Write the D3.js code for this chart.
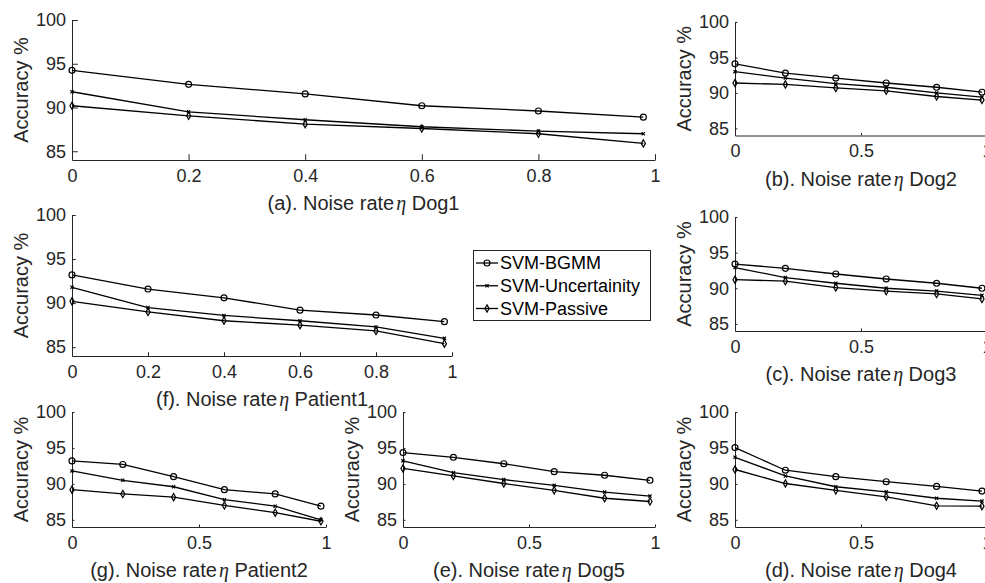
<!doctype html>
<html>
<head>
<meta charset="utf-8">
<script src="https://d3js.org/d3.v7.min.js"></script>
<style>
  body { margin: 0; background: #fff; }
  text { font-family: "Liberation Sans", Arial, sans-serif; }
</style>
</head>
<body>
<svg id="chart" width="985" height="583"></svg>
<script>
// noise rates on the x axis
const noiseRates = [0, 0.2, 0.4, 0.6, 0.8, 0.98];
const methods = ["SVM-BGMM", "SVM-Uncertainity", "SVM-Passive"];
const xTicksFine = [0, 0.2, 0.4, 0.6, 0.8, 1];
const xTicksCoarse = [0, 0.5, 1];
const yTicks = [85, 90, 95, 100];

// accuracy per panel: [BGMM, Uncertainity, Passive]
const dog1Acc = [
  [94.25, 92.65, 91.55, 90.2, 89.6, 88.9],
  [91.8, 89.5, 88.6, 87.8, 87.3, 87.0],
  [90.2, 89.05, 88.1, 87.6, 87.0, 85.9]
];
const dog2Acc = [
  [94.1, 92.8, 92.1, 91.4, 90.8, 90.1],
  [93.0, 92.1, 91.3, 90.8, 90.0, 89.4],
  [91.4, 91.2, 90.7, 90.3, 89.5, 89.0]
];
const patient1Acc = [
  [93.2, 91.6, 90.6, 89.2, 88.65, 87.9],
  [91.8, 89.5, 88.6, 88.0, 87.3, 86.0],
  [90.2, 89.0, 88.0, 87.5, 86.85, 85.4]
];
const dog3Acc = [
  [93.4, 92.8, 92.0, 91.3, 90.7, 90.0],
  [92.9, 91.5, 90.7, 90.0, 89.6, 89.0],
  [91.2, 91.0, 90.1, 89.6, 89.2, 88.5]
];
const patient2Acc = [
  [93.2, 92.7, 91.0, 89.2, 88.6, 86.9],
  [91.8, 90.5, 89.6, 87.8, 86.9, 85.0],
  [89.2, 88.6, 88.15, 87.0, 86.0, 84.8]
];
const dog5Acc = [
  [94.35, 93.7, 92.8, 91.7, 91.2, 90.5],
  [93.2, 91.55, 90.6, 89.8, 88.85, 88.3],
  [92.15, 91.1, 90.05, 89.1, 88.0, 87.55]
];
const dog4Acc = [
  [95.05, 91.9, 91.0, 90.3, 89.65, 89.0],
  [93.7, 91.1, 89.6, 88.9, 88.0, 87.6],
  [92.0, 90.05, 89.1, 88.2, 86.95, 86.9]
];

// panel layout (pixel boxes of the axes)
const panels = [
  {tag: "(a)", name: "Dog1",     acc: dog1Acc,     ticks: xTicksFine,   l: 72,  r: 655, t: 20,  b: 160},
  {tag: "(b)", name: "Dog2",     acc: dog2Acc,     ticks: xTicksCoarse, l: 735, r: 987, t: 22,  b: 135.5},
  {tag: "(f)", name: "Patient1", acc: patient1Acc, ticks: xTicksFine,   l: 72,  r: 452, t: 215, b: 356},
  {tag: "(c)", name: "Dog3",     acc: dog3Acc,     ticks: xTicksCoarse, l: 735, r: 987, t: 217, b: 331},
  {tag: "(g)", name: "Patient2", acc: patient2Acc, ticks: xTicksCoarse, l: 72,  r: 326, t: 412, b: 527},
  {tag: "(e)", name: "Dog5",     acc: dog5Acc,     ticks: xTicksCoarse, l: 403, r: 655, t: 412, b: 527},
  {tag: "(d)", name: "Dog4",     acc: dog4Acc,     ticks: xTicksCoarse, l: 735, r: 987, t: 412, b: 527}
];

const axisColor = "#262626";
const symbols = [
  d3.symbol().type(d3.symbolCircle).size(28),
  d3.symbol().type(d3.symbolTimes).size(8),
  d3.symbol().type(d3.symbolDiamond).size(15)
];

const svg = d3.select("#chart");

panels.forEach(function(p) {
  var x = d3.scaleLinear().domain([0, 1]).range([p.l, p.r]);
  var y = d3.scaleLinear().domain([84, 100]).range([p.b, p.t]);
  var tick = 0.01 * Math.max(p.r - p.l, p.b - p.t);
  var g = svg.append("g");

  var gx = g.append("g").attr("transform", "translate(0," + p.b + ")")
    .call(d3.axisBottom(x).tickValues(p.ticks).tickFormat(d3.format("~g"))
      .tickSizeInner(-tick).tickSizeOuter(0).tickPadding(9));
  var gy = g.append("g").attr("transform", "translate(" + p.l + ",0)")
    .call(d3.axisLeft(y).tickValues(yTicks)
      .tickSizeInner(-tick).tickSizeOuter(0).tickPadding(6));
  [gx, gy].forEach(function(a) {
    a.selectAll("path, line").attr("stroke", axisColor).attr("stroke-width", 1);
    a.selectAll("text").attr("fill", axisColor).style("font-size", "18px")
      .style("font-family", "Liberation Sans, Arial, sans-serif");
  });

  g.append("text")
    .attr("transform", "rotate(-90)")
    .attr("x", -(p.t + p.b) / 2)
    .attr("y", p.l - 44.5)
    .attr("text-anchor", "middle")
    .attr("fill", axisColor)
    .style("font-size", "20px")
    .text("Accuracy %");

  var title = g.append("text")
    .attr("x", (p.l + p.r) / 2)
    .attr("y", p.b + 50)
    .attr("text-anchor", "middle")
    .attr("fill", axisColor)
    .style("font-size", "20px");
  title.append("tspan").text(p.tag + ". Noise rate");
  title.append("tspan").attr("dx", 2)
    .style("font-family", "Liberation Serif, serif").style("font-style", "italic")
    .text("\u03b7");
  title.append("tspan").text(" " + p.name);

  var line = d3.line().x(function(d, i) { return x(noiseRates[i]); }).y(function(d) { return y(d); });

  p.acc.forEach(function(series, k) {
    g.append("path").datum(series)
      .attr("fill", "none").attr("stroke", "#000").attr("stroke-width", 1.3)
      .attr("d", line);
    g.selectAll(null).data(series).enter().append("path")
      .attr("transform", function(d, i) { return "translate(" + x(noiseRates[i]) + "," + y(d) + ")"; })
      .attr("d", symbols[k])
      .attr("fill", "none").attr("stroke", "#000").attr("stroke-width", 1.2);
  });
});

// legend
const lg = svg.append("g");
lg.append("rect").attr("x", 473.5).attr("y", 250.5).attr("width", 177).attr("height", 70)
  .attr("fill", "#fff").attr("stroke", axisColor).attr("stroke-width", 1);
const rowY = d3.scalePoint().domain(methods).range([263, 308.5]);
methods.forEach(function(m, k) {
  var yy = rowY(m);
  lg.append("line").attr("x1", 476).attr("x2", 498).attr("y1", yy).attr("y2", yy)
    .attr("stroke", "#000").attr("stroke-width", 1.3);
  lg.append("path").attr("transform", "translate(487," + yy + ")")
    .attr("d", symbols[k]).attr("fill", "none").attr("stroke", "#000").attr("stroke-width", 1.2);
  lg.append("text").attr("x", 500).attr("y", yy).attr("dy", "0.35em")
    .attr("fill", "#000").style("font-size", "18px").text(m);
});
</script>
</body>
</html>
